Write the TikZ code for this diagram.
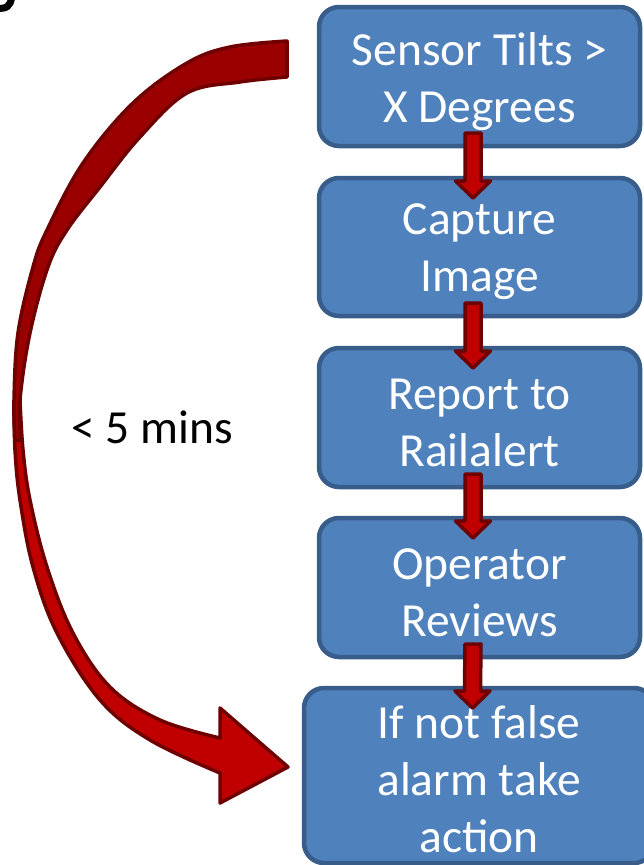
\documentclass[tikz,border=0pt]{standalone}
\usepackage{fontspec}
\setmainfont{Carlito}
\usetikzlibrary{calc}
\definecolor{boxfill}{HTML}{4F81BD}
\definecolor{boxline}{HTML}{385D8A}
\definecolor{arrred}{HTML}{C00000}
\definecolor{arrdark}{HTML}{9B0000}
\definecolor{arrline}{HTML}{6E0000}
\tikzset{
  stepbox/.style={draw=boxline, fill=boxfill, line width=4.5pt, rounded corners=20pt,
    outer sep=0pt, inner sep=0pt},
  boxtext/.style={text=white, align=center, inner sep=0pt,
    font=\fontsize{47.5}{57}\selectfont},
  smallarrow/.style={draw=arrline, fill=arrred, line width=3.5pt, line join=round},
  bigarrow/.style={draw=arrline, line width=3.5pt, line join=round},
  lbl/.style={font=\fontsize{47.5}{57}\selectfont, text=black, inner sep=0pt}
}
\newcommand\downarr[2]{%
  \draw[smallarrow] ($(#1.south)+(-14.5,-13)$) -- ($(#1.south)+(1.5,-13)$)
    -- ($(#2.north)+(1.5,3)$) -- ($(#2.north)+(11,3)$) -- ($(#2.north)+(-6.5,20)$)
    -- ($(#2.north)+(-24,3)$) -- ($(#2.north)+(-14.5,3)$) -- cycle;}
\begin{document}
\begin{tikzpicture}[x=1pt, y=-1pt]
\useasboundingbox (0,0) rectangle (643,865);
% fragment of cut-off text at top left
\draw[line width=7pt, black] (-3,8) .. controls (6,9.5) and (11,6) .. (11.5,-3);
% boxes
\node[stepbox, minimum width=321pt, minimum height=139pt] (b1) at (479.5,76.5) {};
\node[stepbox, minimum width=321pt, minimum height=138pt] (b2) at (479.5,247) {};
\node[stepbox, minimum width=321pt, minimum height=139pt] (b3) at (479.5,417.5) {};
\node[stepbox, minimum width=321pt, minimum height=139pt] (b4) at (479.5,587.5) {};
\node[stepbox, minimum width=350pt, minimum height=175pt] (b5) at (479,775.5) {};
\node[boxtext] (t1) at ($(b1.center)+(0,5)$) {Sensor Tilts >\\X Degrees};
\node[boxtext] (t2) at ($(b2.center)+(0,5)$) {Capture\\Image};
\node[boxtext] (t3) at ($(b3.center)+(0,5)$) {Report to\\Railalert};
\node[boxtext] (t4) at ($(b4.center)+(0,5)$) {Operator\\Reviews};
\node[boxtext] (t5) at ($(b5.center)+(0,4)$) {If not false\\alarm take\\action};
% small arrows
\downarr{b1}{b2}
\downarr{b2}{b3}
\downarr{b3}{b4}
\downarr{b4}{b5}
% big curved arrow: lower bright part
\draw[bigarrow, fill=arrred] (14,400)
  -- plot[smooth, tension=0.6] coordinates {(14,400) (15,450) (20,500) (33,567) (57,633) (100,700) (150,740) (220,773)}
  -- (220,803) -- (288,767) -- (220,708) -- (220,738)
  -- plot[smooth, tension=0.6] coordinates {(220,738) (160,720) (110,687) (73,633) (47,567) (30,500) (23,450) (20,400)}
  -- cycle;
% upper darker part
\draw[bigarrow, fill=arrdark] (287,41)
  -- plot[smooth, tension=0.6] coordinates {(287,41) (230,47) (187,63) (133,103) (83,163) (47,230) (33,267) (18,333) (14,400) (15,440)}
  -- (21,440)
  -- plot[smooth, tension=0.6] coordinates {(21,440) (20,400) (30,333) (48,267) (67,230) (100,187) (140,137) (187,93) (240,82) (287,77)}
  -- cycle;
% label
\node[lbl, anchor=base] (t) at (152,443) {< 5 mins};
\end{tikzpicture}
\end{document}
